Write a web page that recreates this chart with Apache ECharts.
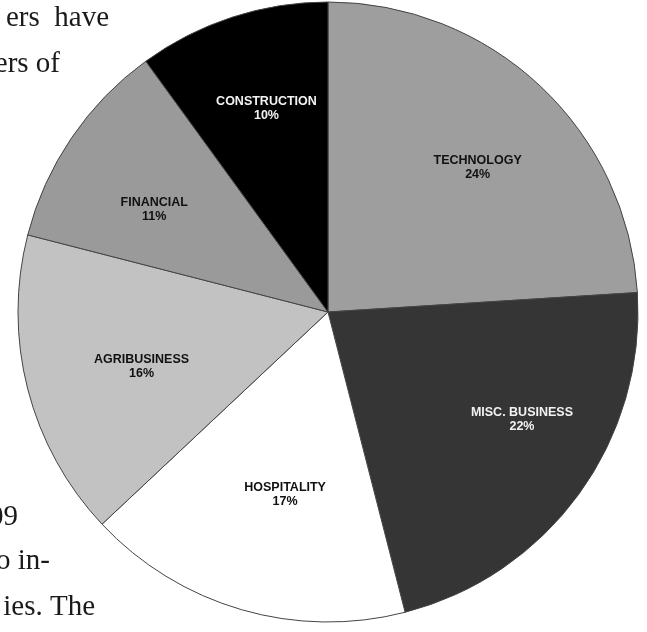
<!DOCTYPE html>
<html>
<head>
<meta charset="utf-8">
<script src="https://cdn.jsdelivr.net/npm/echarts@6/dist/echarts.min.js"></script>
<style>
html,body{margin:0;padding:0;background:#fff;}
#chart{width:647px;height:632px;}
</style>
</head>
<body>
<div id="chart"></div>
<script>
// Data
const categories = ['TECHNOLOGY', 'MISC. BUSINESS', 'HOSPITALITY', 'AGRIBUSINESS', 'FINANCIAL', 'CONSTRUCTION'];
const shares = [24, 22, 17, 16, 11, 10];
const sideText = ['ers  have', 'ers of', '09', 'o in-', 'ies. The'];

// Styling / layout
const sliceColors = ['#9e9e9e', '#353535', '#ffffff', '#c2c2c2', '#9a9a9a', '#000000'];
const labelColors = ['#111', '#f2f2f2', '#111', '#111', '#111', '#f2f2f2'];
const labelRadiusFactor = [0.67, 0.716, 0.606, 0.627, 0.65, 0.687];
const labelAngleShift = [2.9, -6.9, -3, -2, -3.8, 1.2]; // degrees
const CX = 328, CY = 312, R = 310;

const total = shares.reduce((a, b) => a + b, 0);
const midAngles = [];
let acc = 0;
shares.forEach(v => { midAngles.push((acc + v / 2) / total * 2 * Math.PI); acc += v; });

const chart = echarts.init(document.getElementById('chart'), null, {renderer: 'canvas'});

const sideTextPos = [
  {x: 109, y: 26}, {x: 60, y: 72}, {x: 18, y: 525}, {x: 50, y: 569}, {x: 95, y: 615}
];

chart.setOption({
  animation: false,
  backgroundColor: '#ffffff',
  graphic: sideText.map((t, i) => ({
    type: 'text',
    x: sideTextPos[i].x,
    y: sideTextPos[i].y + 7,
    style: {
      text: t,
      font: '29px "Liberation Serif", serif',
      fill: '#1a1a1a',
      align: 'right',
      verticalAlign: 'bottom'
    }
  })),
  series: [{
    type: 'pie',
    center: [CX, CY],
    radius: [0, R],
    startAngle: 90,
    clockwise: true,
    avoidLabelOverlap: false,
    itemStyle: {borderColor: '#444444', borderWidth: 1},
    label: {
      show: true,
      position: 'inside',
      align: 'center',
      verticalAlign: 'middle',
      fontFamily: '"Liberation Sans", Arial, sans-serif',
      fontWeight: 'bold',
      fontSize: 12.5,
      lineHeight: 14,
      formatter: p => p.name + '\n' + p.value + '%'
    },
    labelLine: {show: false},
    labelLayout: function (params) {
      const i = params.dataIndex;
      const r = R * labelRadiusFactor[i];
      const a = midAngles[i] + labelAngleShift[i] * Math.PI / 180;
      return {
        x: CX + r * Math.sin(a),
        y: CY - r * Math.cos(a),
        align: 'center',
        verticalAlign: 'middle'
      };
    },
    emphasis: {disabled: true},
    data: categories.map((c, i) => ({
      name: c,
      value: shares[i],
      itemStyle: {color: sliceColors[i]},
      label: {color: labelColors[i]}
    }))
  }]
});
</script>
</body>
</html>
